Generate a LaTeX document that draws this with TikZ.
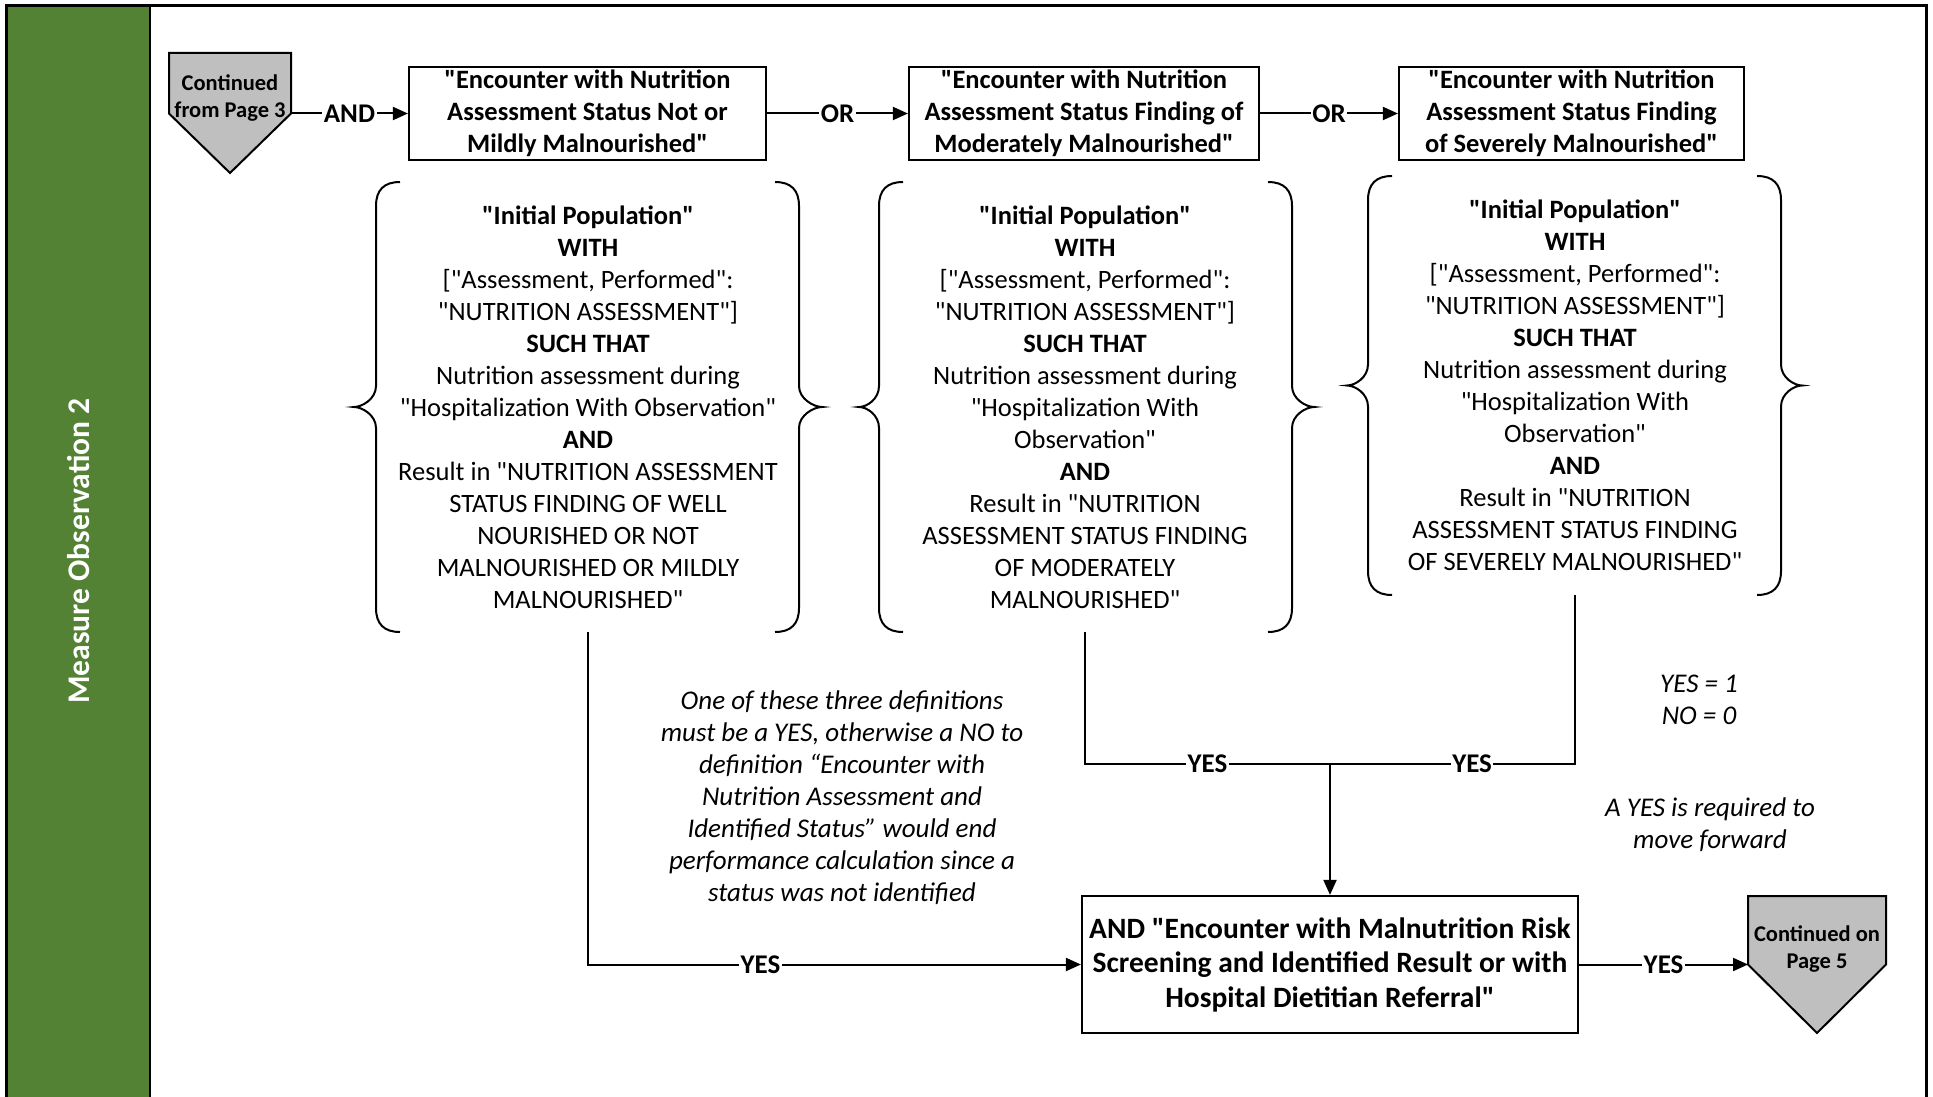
\documentclass[tikz,border=0pt]{standalone}
\usepackage{fontspec}
\setmainfont{Carlito}[Ligatures=TeXOff]
\usetikzlibrary{arrows.meta,calc}
\definecolor{bandgreen}{RGB}{84,130,53}
\definecolor{pagegray}{RGB}{191,191,191}

% curly braces on both sides of a condition block:
% #1 left tip x, #2 left stem x, #3 right stem x, #4 right tip x, #5 top y, #6 bottom y
\newcommand\condbraces[6]{%
  \pgfmathsetmacro\ymid{(#5+#6)/2}%
  \draw[brc] ({#2+24},#5) .. controls ({#2+8},#5) and (#2,{#5+8}) .. (#2,{#5+24})
    -- (#2,{\ymid-21}) .. controls (#2,{\ymid-8}) and ({#1+8},\ymid) .. (#1,\ymid)
    .. controls ({#1+8},\ymid) and (#2,{\ymid+8}) .. (#2,{\ymid+21})
    -- (#2,{#6-24}) .. controls (#2,{#6-8}) and ({#2+8},#6) .. ({#2+24},#6);
  \draw[brc] ({#3-24},#5) .. controls ({#3-8},#5) and (#3,{#5+8}) .. (#3,{#5+24})
    -- (#3,{\ymid-21}) .. controls (#3,{\ymid-8}) and ({#4-8},\ymid) .. (#4,\ymid)
    .. controls ({#4-8},\ymid) and (#3,{\ymid+8}) .. (#3,{\ymid+21})
    -- (#3,{#6-24}) .. controls (#3,{#6-8}) and ({#3-8},#6) .. ({#3-24},#6);
}

\begin{document}
\begin{tikzpicture}[x=1pt,y=-1pt,
  box/.style={draw,line width=2.2pt,align=center,inner sep=0pt,
    font=\fontsize{26.5}{32}\selectfont\bfseries},
  cond/.style={align=center,inner sep=0pt,font=\fontsize{26.5}{32}\selectfont},
  conn/.style={line width=2pt},
  arr/.style={conn,-{Triangle[length=15pt,width=13pt]}},
  lbl/.style={fill=white,inner sep=1.5pt,font=\fontsize{27}{30}\selectfont\bfseries},
  note/.style={align=center,inner sep=0pt,font=\fontsize{27}{32}\selectfont\itshape},
  brc/.style={line width=2pt},
  pent/.style={draw,line width=2pt,fill=pagegray,line join=miter},
  pentxt/.style={align=center,inner sep=0pt,font=\fontsize{22.5}{27}\selectfont\bfseries}
]
\useasboundingbox (0,0) rectangle (1933,1097);

% swimlane frame and band
\fill[bandgreen] (6,6) rectangle (150,1100);
\draw[line width=2pt] (150,6) -- (150,1100);
\draw[line width=3pt] (6,1100) -- (6,6) -- (1926,6) -- (1926,1100);
\node[rotate=90,text=white,font=\fontsize{31.5}{34}\selectfont\bfseries] (lane) at (79,551) {Measure Observation 2};

% off-page connectors
\draw[pent] (169,53) -- (291,53) -- (291,113.5) -- (230,173) -- (169,113.5) -- cycle;
\node[pentxt] (p1) at (230,98) {Continued\\from Page 3};
\coordinate (p1e) at (291,113.5);

\draw[pent] (1748,896) -- (1886,896) -- (1886,964.5) -- (1817,1033) -- (1748,964.5) -- cycle;
\node[pentxt] (p2) at (1817,949) {Continued on\\Page 5};
\coordinate (p2w) at (1748,964.5);

% status definitions
\node[box,minimum width=357,minimum height=93] (box1) at (587.5,113.5)
  {"Encounter with Nutrition\\Assessment Status Not or\\Mildly Malnourished"};
\node[box,minimum width=350,minimum height=93] (box2) at (1084,113.5)
  {"Encounter with Nutrition\\Assessment Status Finding of\\Moderately Malnourished"};
\node[box,minimum width=345,minimum height=93] (box3) at (1571.5,113.5)
  {"Encounter with Nutrition\\Assessment Status Finding\\of Severely Malnourished"};

% condition blocks
\node[cond,minimum height=450] (b1) at (588,407)
  {\textbf{"Initial Population"}\\\textbf{WITH}\\{[}"Assessment, Performed":\\"NUTRITION ASSESSMENT"]\\\textbf{SUCH THAT}\\Nutrition assessment during\\"Hospitalization With Observation"\\\textbf{AND}\\Result in "NUTRITION ASSESSMENT\\STATUS FINDING OF WELL\\NOURISHED OR NOT\\MALNOURISHED OR MILDLY\\MALNOURISHED"};
\node[cond,minimum height=450] (b2) at (1085,407)
  {\textbf{"Initial Population"}\\\textbf{WITH}\\{[}"Assessment, Performed":\\"NUTRITION ASSESSMENT"]\\\textbf{SUCH THAT}\\Nutrition assessment during\\"Hospitalization With\\Observation"\\\textbf{AND}\\Result in "NUTRITION\\ASSESSMENT STATUS FINDING\\OF MODERATELY\\MALNOURISHED"};
\node[cond,minimum height=419] (b3) at (1575,385.5)
  {\textbf{"Initial Population"}\\\textbf{WITH}\\{[}"Assessment, Performed":\\"NUTRITION ASSESSMENT"]\\\textbf{SUCH THAT}\\Nutrition assessment during\\"Hospitalization With\\Observation"\\\textbf{AND}\\Result in "NUTRITION\\ASSESSMENT STATUS FINDING\\OF SEVERELY MALNOURISHED"};

\condbraces{354}{376}{799}{822}{182}{632}
\condbraces{859}{879}{1292}{1314}{182}{632}
\condbraces{1347}{1368}{1781}{1802}{176}{595}

% combined result
\node[box,minimum width=496,minimum height=137,font=\fontsize{29.5}{34.5}\selectfont\bfseries] (box4) at (1330,964.5)
  {AND "Encounter with Malnutrition Risk\\Screening and Identified Result or with\\Hospital Dietitian Referral"};
\coordinate (jn) at (1330,764);

% notes
\node[note] (n1) at (842,798)
  {One of these three definitions\\must be a YES, otherwise a NO to\\definition “Encounter with\\Nutrition Assessment and\\Identified Status” would end\\performance calculation since a\\status was not identified};
\node[note] (n2) at (1699,700) {YES = 1\\NO = 0};
\node[note] (n3) at (1710,825) {A YES is required to\\move forward};

% connectors
\draw[arr] (p1e) -- node[lbl]{AND} (box1);
\draw[arr] (box1) -- node[lbl]{OR} (box2);
\draw[arr] (box2) -- node[lbl]{OR} (box3);
\draw[arr] (b1.south) |- node[lbl,pos=0.675]{YES} (box4.west);
\draw[conn] (b2.south) |- node[lbl,pos=0.75]{YES} (jn);
\draw[conn] (b3.south) |- node[lbl,pos=0.71]{YES} (jn);
\draw[arr] (jn) -- (box4.north);
\draw[arr] (box4) -- node[lbl]{YES} (p2w);
\end{tikzpicture}
\end{document}
